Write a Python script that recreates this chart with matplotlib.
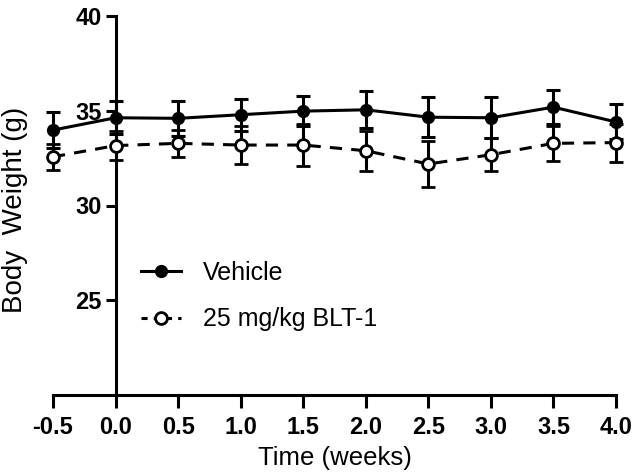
import matplotlib
matplotlib.use("Agg")
import matplotlib.pyplot as plt
from matplotlib.lines import Line2D

plt.rcParams['font.family'] = ['Liberation Sans', 'DejaVu Sans']

weeks = [-0.5, 0.0, 0.5, 1.0, 1.5, 2.0, 2.5, 3.0, 3.5, 4.0]
vehicle = [33.98, 34.63, 34.60, 34.79, 34.98, 35.05, 34.66, 34.63, 35.19, 34.41]
vehicle_err = [0.93, 0.88, 0.94, 0.84, 0.79, 0.97, 1.04, 1.07, 0.90, 0.92]
blt1 = [32.57, 33.16, 33.28, 33.19, 33.19, 32.89, 32.19, 32.68, 33.28, 33.32]
blt1_err = [0.70, 0.75, 0.71, 1.00, 1.10, 1.06, 1.20, 0.88, 0.92, 1.00]
xticks = [-0.5, 0.0, 0.5, 1.0, 1.5, 2.0, 2.5, 3.0, 3.5, 4.0]
yticks = [25, 30, 35, 40]

fig = plt.figure(figsize=(6.33, 4.72), dpi=100)
W, H = 633, 472
ax = fig.add_axes([53 / W, 1 - 395 / H, (616 - 53) / W, (395 - 16) / H])

lw = 2.2
ax.errorbar(weeks, vehicle, yerr=vehicle_err, color='black', lw=lw, marker='o',
            ms=8.5, mfc='black', mec='black', capsize=5, capthick=lw, elinewidth=lw,
            zorder=3, clip_on=False)
ax.errorbar(weeks, blt1, yerr=blt1_err, color='black', lw=lw, ls=(0, (4, 3)), marker='o',
            ms=8.5, mfc='white', mec='black', mew=2.0, capsize=5, capthick=lw,
            elinewidth=lw, zorder=3, clip_on=False)

ax.set_xlim(-0.5, 4.0)
ax.set_ylim(20, 40)
ax.spines['right'].set_visible(False)
ax.spines['top'].set_visible(False)
ax.spines['left'].set_position(('data', 0))
for s in ('left', 'bottom'):
    ax.spines[s].set_linewidth(2.2)
ax.set_xticks(xticks)
ax.set_xticklabels([f"{t:.1f}" for t in xticks])
ax.set_yticks(yticks)
ax.tick_params(axis='both', direction='out', width=2.2, labelsize=17)
ax.tick_params(axis='x', length=9, pad=6)
ax.tick_params(axis='y', length=7, pad=3)
for lab in ax.get_xticklabels() + ax.get_yticklabels():
    lab.set_fontweight('bold')

fig.text(15 / W, 1 - 210 / H, 'Body  Weight (g)', rotation=90, ha='center', va='center', fontsize=20)
fig.text(335 / W, 1 - 458 / H, 'Time (weeks)', ha='center', va='center', fontsize=18.5)

handles = [
    Line2D([], [], color='black', lw=lw, marker='o', ms=8.5, mfc='black'),
    Line2D([], [], color='black', lw=lw, ls=(0, (2, 2)), marker='o', ms=8.5, mfc='white', mew=2.0),
]
ax.legend(handles, ['Vehicle', '25 mg/kg BLT-1'], loc='center left',
          bbox_to_anchor=(118 / W, 1 - 296 / H), bbox_transform=fig.transFigure,
          frameon=False, fontsize=18, handlelength=1.6, handletextpad=0.9, labelspacing=0.9)

fig.savefig('out.png', dpi=100)
